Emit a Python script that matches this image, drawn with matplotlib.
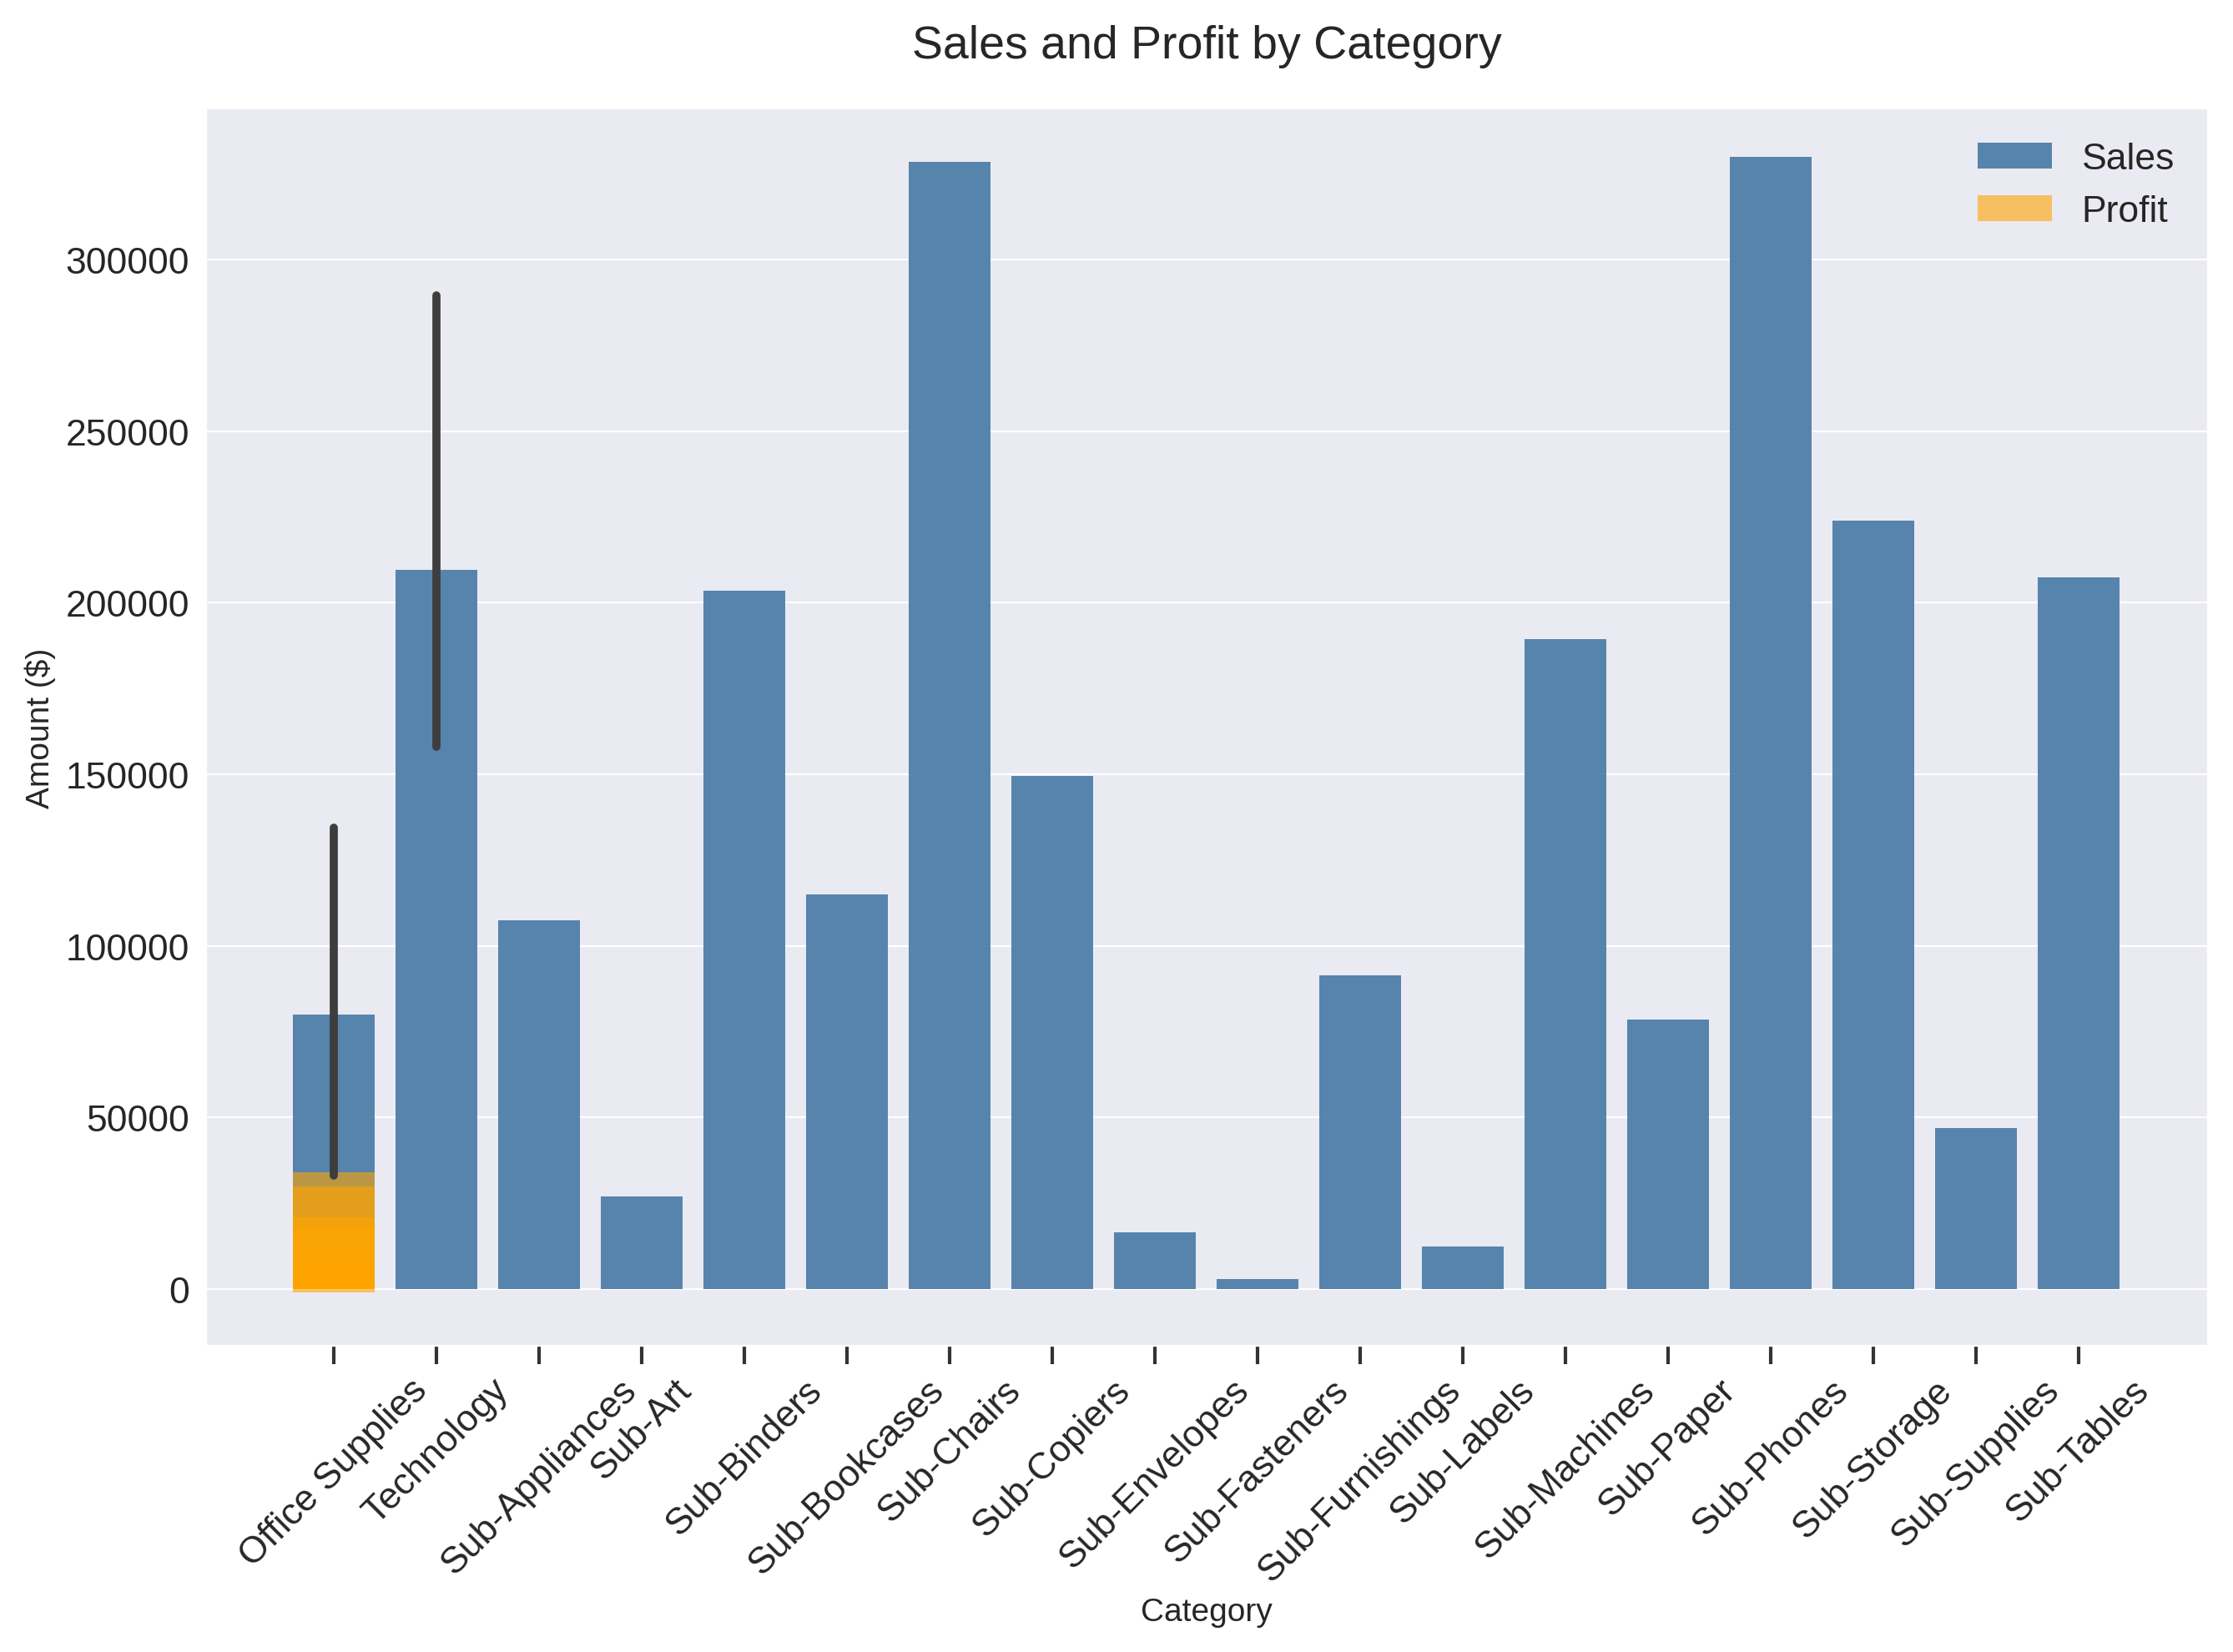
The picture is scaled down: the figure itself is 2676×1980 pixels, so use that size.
import numpy as np
import matplotlib
matplotlib.use("Agg")
import matplotlib.pyplot as plt
import seaborn as sns

# Sales per category (Office Supplies / Technology are means with CI)
categories = ["Office Supplies", "Technology", "Sub-Appliances", "Sub-Art", "Sub-Binders",
              "Sub-Bookcases", "Sub-Chairs", "Sub-Copiers", "Sub-Envelopes", "Sub-Fasteners",
              "Sub-Furnishings", "Sub-Labels", "Sub-Machines", "Sub-Paper", "Sub-Phones",
              "Sub-Storage", "Sub-Supplies", "Sub-Tables"]
sales = [80000, 209500, 107500, 27000, 203500, 115000, 328500, 149500, 16500, 3000,
         91500, 12500, 189500, 78500, 330000, 224000, 47000, 207500]
ci_low = [33000, 158000]
ci_high = [134500, 289500]
# all profit rows ended up at the first position
profits = [34000, 30000, 21000, 17700, 12000, 6000, -1000]

sns.set_style("darkgrid")
plt.rcParams["font.family"] = ["Liberation Sans", "DejaVu Sans"]
plt.rcParams["xtick.bottom"] = True
plt.rcParams["ytick.left"] = False

fig, ax = plt.subplots(figsize=(13.38, 9.905), dpi=200)
x = np.arange(len(categories))
ax.bar(x, sales, width=0.8, color="#4f7fa8", alpha=0.95, linewidth=0, label="Sales")
ax.vlines(x[:2], ci_low, ci_high, color="#3d3d3d", lw=3.5, capstyle="round", zorder=3)
for i, p in enumerate(profits):
    ax.bar(0, p, width=0.8, color="orange", alpha=0.6, linewidth=0,
           label="Profit" if i == 0 else None, zorder=2)

ax.grid(axis="x", visible=False)
ax.set_xticks(x)
ax.set_xticklabels(categories, rotation=45, fontsize=16)
ax.tick_params(axis="x", length=8, width=1.5, color="#333333")
ax.tick_params(axis="y", labelsize=16)
ax.set_xlim(-1.25, len(categories) - 1 + 1.26)
ax.set_ylim(-16500, 344000)
ax.set_xlabel("Category", fontsize=14)
ax.set_ylabel("Amount ($)", fontsize=14)
ax.set_title("Sales and Profit by Category", fontsize=20, pad=22)
ax.legend(fontsize=16, frameon=False, loc="upper right")
fig.tight_layout()
fig.savefig("out.png", dpi=200)
